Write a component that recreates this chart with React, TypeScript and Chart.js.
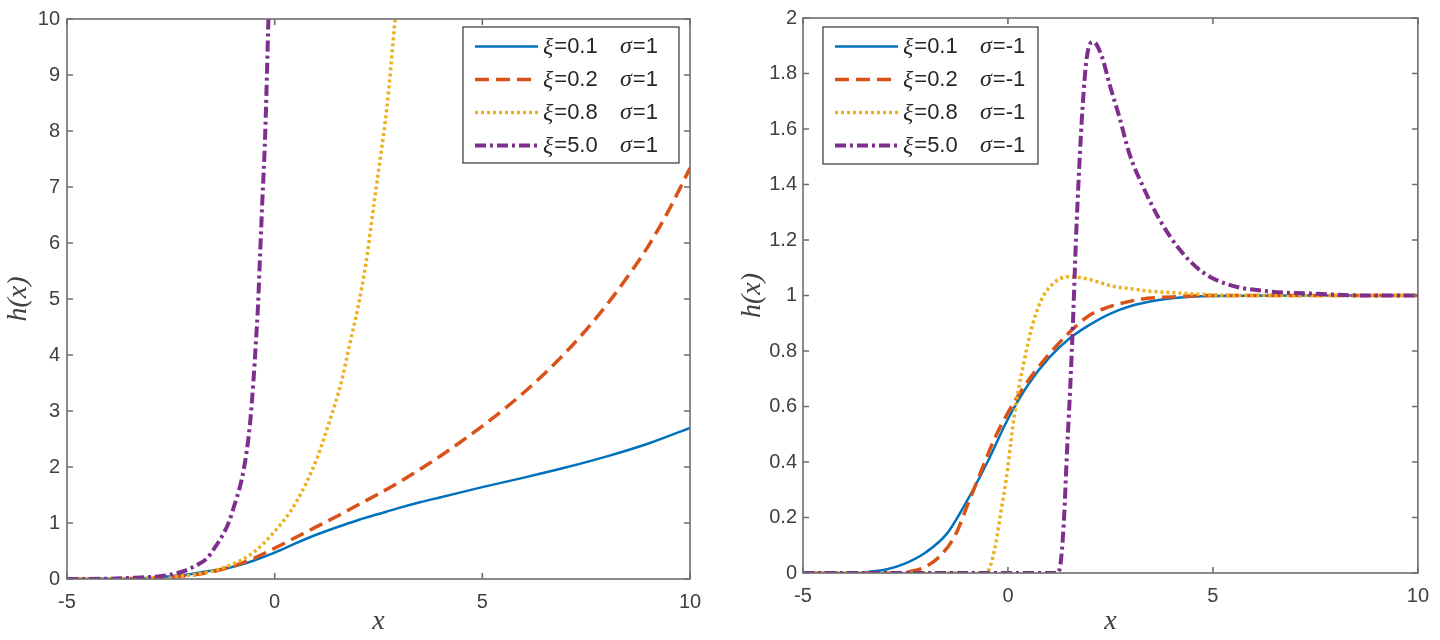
import React, { useEffect, useRef } from 'react';
import { Chart, registerables } from 'chart.js';

Chart.register(...registerables);

// ---------- data ----------
const XI_LABELS = ['0.1', '0.2', '0.8', '5.0'];
const SIGMA_LEFT = '1';
const SIGMA_RIGHT = '-1';

// Left panel (sigma = 1)
const leftBlueX = [-5, -4, -3, -2.5, -2, -1.5, -1, -0.5, 0, 0.5, 1, 1.5, 2, 2.5, 3, 3.5, 4, 5, 6, 7, 8, 9, 10];
const leftBlueY = [0, 0.003, 0.02, 0.05, 0.09, 0.15, 0.22, 0.33, 0.47, 0.635, 0.79, 0.925, 1.05, 1.16, 1.27, 1.37, 1.46, 1.64, 1.81, 1.99, 2.19, 2.42, 2.7];

const leftRedX = [-5, -4, -3, -2, -1.5, -1, -0.5, 0, 0.5, 1, 1.5, 2, 2.5, 3, 3.5, 4, 4.5, 5, 5.5, 6, 6.5, 7, 7.5, 8, 8.5, 9, 9.5, 10];
const leftRedY = [0, 0.003, 0.02, 0.07, 0.13, 0.23, 0.37, 0.55, 0.74, 0.93, 1.12, 1.32, 1.52, 1.73, 1.96, 2.2, 2.46, 2.73, 3.02, 3.33, 3.67, 4.04, 4.45, 4.9, 5.4, 5.95, 6.6, 7.34];

const leftYellowX = [-5, -4, -3, -2.5, -2, -1.5, -1, -0.5, 0, 0.5, 1, 1.33, 1.6, 1.8, 2, 2.2, 2.4, 2.55, 2.7, 2.9];
const leftYellowY = [0, 0.005, 0.02, 0.04, 0.07, 0.14, 0.27, 0.48, 0.85, 1.35, 2.12, 2.84, 3.5, 4.17, 4.83, 5.65, 6.75, 7.55, 8.4, 10];

const leftPurpleX = [-5, -4, -3.5, -3, -2.75, -2.5, -2.12, -1.9, -1.64, -1.45, -1.24, -1.1, -0.99, -0.79, -0.67, -0.59, -0.51, -0.45, -0.4, -0.35, -0.3, -0.23, -0.15];
const leftPurpleY = [0, 0.005, 0.02, 0.035, 0.05, 0.08, 0.16, 0.24, 0.36, 0.55, 0.8, 1.02, 1.27, 1.79, 2.3, 2.8, 3.55, 4.25, 4.9, 5.8, 6.7, 7.9, 10];

// Right panel (sigma = -1)
const rightBlueX = [-5, -3.6, -3.4, -3, -2.5, -2, -1.5, -1, -0.5, 0, 0.5, 1, 1.5, 2, 2.5, 3, 3.5, 4, 5, 7, 10];
const rightBlueY = [0, 0, 0.004, 0.012, 0.035, 0.075, 0.14, 0.26, 0.4, 0.555, 0.68, 0.775, 0.845, 0.895, 0.935, 0.962, 0.979, 0.99, 0.998, 1.0, 1.0];

const rightRedX = [-5, -2.66, -2.3, -2.02, -1.7, -1.3, -0.98, -0.66, -0.33, 0, 0.4, 0.88, 1.52, 2.0, 2.41, 3.21, 4.0, 5, 7, 10];
const rightRedY = [0, 0, 0.008, 0.022, 0.055, 0.132, 0.247, 0.365, 0.483, 0.578, 0.673, 0.767, 0.87, 0.93, 0.956, 0.986, 0.995, 1.0, 1.0, 1.0];

const rightYellowX = [-5, -0.55, -0.49, -0.33, -0.17, -0.04, 0.08, 0.2, 0.4, 0.56, 0.8, 1.12, 1.48, 1.92, 2.57, 3.13, 3.37, 4.3, 5.54, 7, 10];
const rightYellowY = [0, 0, 0.005, 0.082, 0.223, 0.341, 0.483, 0.613, 0.767, 0.873, 0.98, 1.045, 1.068, 1.06, 1.033, 1.022, 1.017, 1.008, 1.0, 1.0, 1.0];

const rightPurpleX = [-5, 1.2, 1.28, 1.36, 1.44, 1.52, 1.59, 1.66, 1.74, 1.82, 1.92, 2.08, 2.28, 2.48, 2.72, 2.96, 3.29, 3.69, 4.17, 4.73, 5.38, 6.34, 7.55, 8.7, 10];
const rightPurpleY = [0, 0, 0.03, 0.176, 0.436, 0.673, 0.92, 1.205, 1.465, 1.677, 1.855, 1.914, 1.866, 1.76, 1.642, 1.512, 1.394, 1.276, 1.169, 1.086, 1.039, 1.015, 1.006, 1.0, 1.0];

// ---------- styles ----------
const COLORS = ['#0072BD', '#D95319', '#EDB120', '#7E2F8E'];
const DASHES: number[][] = [[], [14, 7], [3, 3], [11, 4, 3, 4]];
const WIDTHS = [2.5, 3.5, 3.5, 4];
const AXIS_COLOR = '#6e6e6e';
const TICK_TEXT = '#404040';
const LEGEND_TEXT = '#262626';
const SANS = '"Liberation Sans", Arial, sans-serif';
const SERIF = '"Liberation Serif", "Times New Roman", serif';

const toPoints = (xs: number[], ys: number[]) => xs.map((x, i) => ({ x, y: ys[i] }));

function makeDatasets(series: [number[], number[]][]) {
  return series.map(([xs, ys], i) => ({
    label: 'xi=' + XI_LABELS[i],
    xi: XI_LABELS[i],
    data: toPoints(xs, ys),
    borderColor: COLORS[i],
    backgroundColor: COLORS[i],
    borderWidth: WIDTHS[i],
    borderDash: DASHES[i],
    pointRadius: 0,
    fill: false,
    cubicInterpolationMode: 'monotone',
    order: 4 - i,
  }));
}

const boxPlugin = {
  id: 'matlabBox',
  afterDatasetsDraw(chart: any) {
    const { ctx, chartArea: a, scales } = chart;
    const xs = scales.x;
    const ys = scales.y;
    ctx.save();
    ctx.strokeStyle = AXIS_COLOR;
    ctx.lineWidth = 1.6;
    ctx.setLineDash([]);
    ctx.strokeRect(a.left, a.top, a.right - a.left, a.bottom - a.top);
    const len = 6;
    ctx.beginPath();
    xs.ticks.forEach((t: any) => {
      const px = xs.getPixelForValue(t.value);
      ctx.moveTo(px, a.bottom);
      ctx.lineTo(px, a.bottom - len);
      ctx.moveTo(px, a.top);
      ctx.lineTo(px, a.top + len);
    });
    ys.ticks.forEach((t: any) => {
      const py = ys.getPixelForValue(t.value);
      ctx.moveTo(a.left, py);
      ctx.lineTo(a.left + len, py);
      ctx.moveTo(a.right, py);
      ctx.lineTo(a.right - len, py);
    });
    ctx.stroke();
    ctx.restore();
  },
};

const legendPlugin = {
  id: 'boxLegend',
  afterDraw(chart: any, _args: any, opts: any) {
    const { ctx } = chart;
    const { left, top, width, height, sigma } = opts;
    ctx.save();
    ctx.fillStyle = '#ffffff';
    ctx.fillRect(left, top, width, height);
    ctx.strokeStyle = '#333333';
    ctx.lineWidth = 1.2;
    ctx.setLineDash([]);
    ctx.strokeRect(left, top, width, height);
    chart.data.datasets.forEach((ds: any, i: number) => {
      const yy = top + 19.5 + i * 33;
      ctx.save();
      ctx.setLineDash(ds.borderDash || []);
      ctx.strokeStyle = ds.borderColor;
      ctx.lineWidth = ds.borderWidth;
      ctx.beginPath();
      ctx.moveTo(left + 12, yy);
      ctx.lineTo(left + 75, yy);
      ctx.stroke();
      ctx.restore();
      ctx.fillStyle = LEGEND_TEXT;
      ctx.textBaseline = 'middle';
      ctx.textAlign = 'left';
      let x0 = left + 80;
      ctx.font = 'italic 24px ' + SERIF;
      ctx.fillText('ξ', x0, yy + 1);
      x0 += ctx.measureText('ξ').width + 1;
      ctx.font = '22px ' + SANS;
      ctx.fillText('=' + ds.xi, x0, yy);
      let x1 = left + 157;
      ctx.font = 'italic 24px ' + SERIF;
      ctx.fillText('σ', x1, yy);
      x1 += ctx.measureText('σ').width + 1;
      ctx.font = '22px ' + SANS;
      ctx.fillText('=' + sigma, x1, yy);
    });
    ctx.restore();
  },
};

function makeConfig(p: {
  datasets: any[];
  yMax: number;
  yStep: number;
  padRight: number;
  padTop: number;
  yWidth: number;
  xHeight: number;
  yTickPad: number;
  xTickPad: number;
  yTitlePad: number;
  legend: any;
}) {
  return {
    type: 'line',
    data: { datasets: p.datasets },
    plugins: [boxPlugin, legendPlugin],
    options: {
      animation: false,
      responsive: false,
      maintainAspectRatio: false,
      layout: { padding: { left: 0, right: p.padRight, top: p.padTop, bottom: 0 } },
      plugins: {
        legend: { display: false },
        tooltip: { enabled: false },
        boxLegend: p.legend,
      },
      scales: {
        x: {
          type: 'linear',
          min: -5,
          max: 10,
          grid: { display: false, drawTicks: false },
          border: { display: false },
          ticks: {
            stepSize: 5,
            padding: p.xTickPad,
            color: TICK_TEXT,
            font: { family: SANS, size: 20 },
          },
          title: {
            display: true,
            text: 'x',
            color: TICK_TEXT,
            font: { family: SERIF, style: 'italic', size: 28 },
            padding: { top: 0, bottom: 2 },
          },
          afterFit: (s: any) => {
            s.height = p.xHeight;
          },
        },
        y: {
          type: 'linear',
          min: 0,
          max: p.yMax,
          grid: { display: false, drawTicks: false },
          border: { display: false },
          ticks: {
            stepSize: p.yStep,
            padding: p.yTickPad,
            color: TICK_TEXT,
            font: { family: SANS, size: 20 },
            callback: (v: number) => String(Number(Number(v).toFixed(2))),
          },
          title: {
            display: true,
            text: 'h(x)',
            color: TICK_TEXT,
            font: { family: SERIF, style: 'italic', size: 28 },
            padding: { top: p.yTitlePad, bottom: 0 },
          },
          afterFit: (s: any) => {
            s.width = p.yWidth;
          },
        },
      },
    },
  };
}

function Panel({ left, config }: { left: number; config: any }) {
  const ref = useRef<HTMLCanvasElement | null>(null);
  useEffect(() => {
    if (!ref.current) return;
    const chart = new Chart(ref.current, config);
    return () => chart.destroy();
  }, [config]);
  return (
    <canvas
      ref={ref}
      width={720}
      height={640}
      style={{ position: 'absolute', left, top: 0, width: 720, height: 640 }}
    />
  );
}

const leftConfig = makeConfig({
  datasets: makeDatasets([
    [leftBlueX, leftBlueY],
    [leftRedX, leftRedY],
    [leftYellowX, leftYellowY],
    [leftPurpleX, leftPurpleY],
  ]),
  yMax: 10,
  yStep: 1,
  padRight: 30,
  padTop: 8,
  yWidth: 67,
  xHeight: 61,
  yTickPad: 7,
  xTickPad: 11,
  yTitlePad: 2,
  legend: { left: 463, top: 27, width: 216, height: 136, sigma: SIGMA_LEFT },
});

const rightConfig = makeConfig({
  datasets: makeDatasets([
    [rightBlueX, rightBlueY],
    [rightRedX, rightRedY],
    [rightYellowX, rightYellowY],
    [rightPurpleX, rightPurpleY],
  ]),
  yMax: 2,
  yStep: 0.2,
  padRight: 15,
  padTop: 9,
  yWidth: 83,
  xHeight: 67,
  yTickPad: 6,
  xTickPad: 11,
  yTitlePad: 16,
  legend: { left: 103, top: 27, width: 215, height: 137, sigma: SIGMA_RIGHT },
});

export default function App() {
  return (
    <div style={{ position: 'absolute', left: 0, top: 0, width: 1440, height: 640, background: '#ffffff' }}>
      <Panel left={0} config={leftConfig} />
      <Panel left={720} config={rightConfig} />
    </div>
  );
}
